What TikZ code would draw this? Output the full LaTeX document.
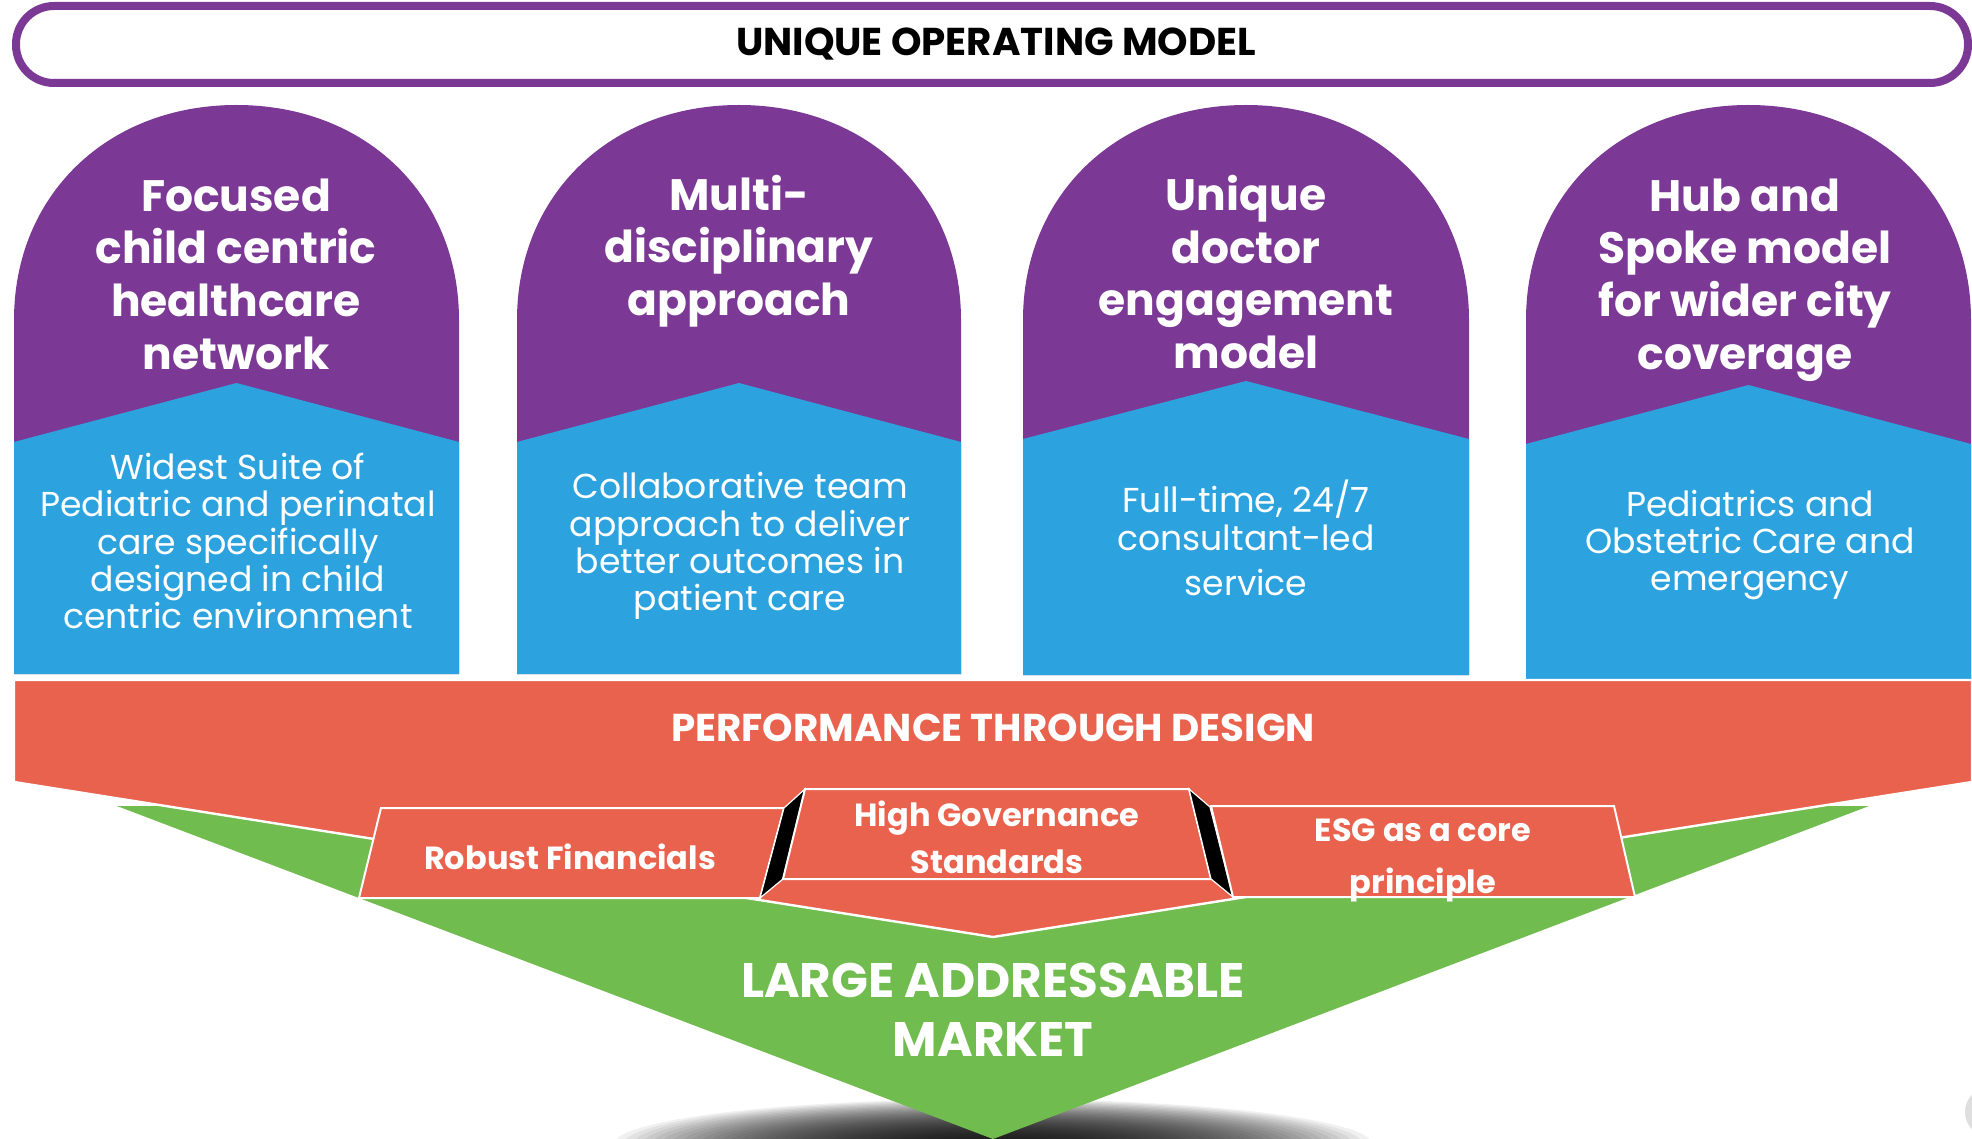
\documentclass[tikz,border=0pt]{standalone}
\usepackage{fontspec}
\setmainfont{Poppins}
\definecolor{upurple}{HTML}{7B3995}
\definecolor{ublue}{HTML}{2CA3DF}
\definecolor{ured}{HTML}{E9624D}
\definecolor{ugreen}{HTML}{71BC4F}
\newcommand{\ucolumn}[5]{%
  \pgfmathsetmacro{\uC}{(#1+#2)/2}
  \fill[upurple] (#1,#5) -- (#1,320) .. controls (#1,195) and (\uC-129,105) .. (\uC,105) .. controls (\uC+129,105) and (#2,195) .. (#2,320) -- (#2,#5) -- cycle;
  \fill[ublue] (#1,#5) -- (#1,#4) -- (\uC,#3) -- (#2,#4) -- (#2,#5) -- cycle;
}
\tikzset{
  headtxt/.style={text=white, font=\fontsize{22}{26.3}\selectfont\bfseries, align=center, inner sep=0pt},
  desctxt/.style={text=white, font=\fontsize{17.3}{18.6}\selectfont, align=center, inner sep=0pt},
  boxtxt/.style={text=white, font=\fontsize{16}{23.5}\selectfont\bfseries, align=center, inner sep=0pt},
  subbox/.style={fill=ured, draw=white, line width=1pt},
  sidebox/.style={fill=black, draw=white, line width=0.6pt},
  shadowlayer/.style={fill=black, fill opacity=0.06}
}
\begin{document}
\begin{tikzpicture}[x=0.5pt, y=-0.5pt]
\useasboundingbox (0,0) rectangle (1972,1139);
\clip (0,0) rectangle (1972,1139);
% banner
\draw[upurple, line width=4pt, fill=white, rounded corners=19pt] (16,6) rectangle (1968,83);
\node[font=\fontsize{19.4}{21}\selectfont\bfseries, anchor=base, inner sep=0pt] (title) at (996,56) {UNIQUE OPERATING MODEL};
% columns
\ucolumn{14}{459}{383}{442}{674}
\ucolumn{517}{961}{383}{442}{674}
\ucolumn{1023}{1469}{381}{439}{675}
\ucolumn{1526}{1971}{385}{444}{680}
\node[headtxt] (h1) at (236,274) {Focused\\child centric\\healthcare\\network};
\node[headtxt] (h2) at (739,251) {Multi-\\disciplinary\\approach};
\node[headtxt] (h3) at (1246,272) {Unique\\doctor\\engagement\\model};
\node[headtxt] (h4) at (1745,280) {Hub and\\Spoke model\\for wider city\\coverage};
\node[desctxt] (d1) at (238,541) {Widest Suite of\\Pediatric and perinatal\\care specifically\\designed in child\\centric environment};
\node[desctxt] (d2) at (740,546) {Collaborative team\\approach to deliver\\better outcomes in\\patient care};
\node[desctxt] (d3) at (1246,538) {Full-time, 24/7\\consultant-led\\[4pt]service};
\node[desctxt] (d4) at (1750,545) {Pediatrics and\\Obstetric Care and\\emergency};
% shadow (stacked translucent ellipses) and green triangle
\foreach \i in {1,...,40} {
  \fill[shadowlayer] (993,1145) ellipse [x radius={9.5*\i}, y radius={1.15*\i}];
}
\fill[ugreen] (117,806) -- (1869,806) -- (993,1139) -- cycle;
% red band
\filldraw[fill=ured, draw=white, line width=1.2pt] (14,680) -- (1972,680) -- (1972,782) -- (993,937) -- (14,782) -- cycle;
\node[font=\fontsize{19.4}{21}\selectfont\bfseries, text=white, anchor=base, inner sep=0pt] (ptd) at (993,741) {PERFORMANCE THROUGH DESIGN};
% sub boxes
\filldraw[subbox] (381,808) -- (784,808) -- (760,898) -- (359,898) -- cycle;
\filldraw[sidebox] (784,808) -- (805,789) -- (783,879) -- (760,898) -- cycle;
\filldraw[subbox] (805,789) -- (1189,789) -- (1211,879) -- (783,879) -- cycle;
\filldraw[sidebox] (1189,789) -- (1210,807) -- (1233,897) -- (1211,879) -- cycle;
\filldraw[subbox] (1211,806) -- (1614,806) -- (1635,897) -- (1233,897) -- cycle;
\node[boxtxt, anchor=base] (rf) at (570,869) {Robust Financials};
\node[boxtxt] (hg) at (997,837) {High Governance\\Standards};
\node[boxtxt, font=\fontsize{16}{26}\selectfont\bfseries] (esg) at (1423,860) {ESG as a core\\principle};
% market
\node[font=\fontsize{24.2}{29.5}\selectfont\bfseries, text=white, align=center, inner sep=0pt] (lam) at (993,1010) {LARGE ADDRESSABLE\\MARKET};
% grey artifact
\fill[gray!25] (1990,1112) circle [radius=25];
\end{tikzpicture}
\end{document}
